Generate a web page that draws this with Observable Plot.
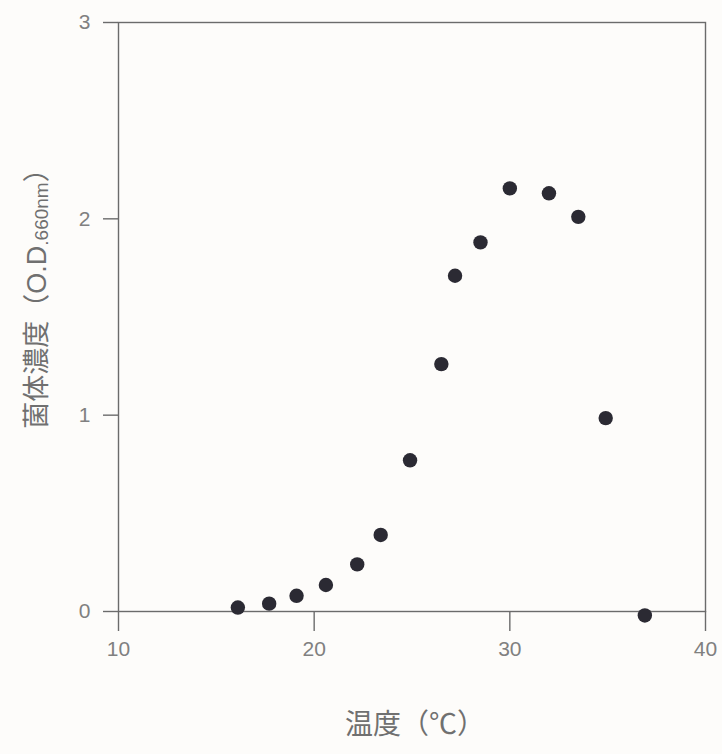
<!DOCTYPE html>
<html>
<head>
<meta charset="utf-8">
<script src="https://cdn.jsdelivr.net/npm/d3@7"></script>
<script src="https://cdn.jsdelivr.net/npm/@observablehq/plot@0.6"></script>
<style>
  html, body { margin: 0; padding: 0; background: #fdfcfa; }
  #chart { width: 722px; height: 754px; }
</style>
</head>
<body>
<div id="chart"></div>
<script>
// Data
const temperature = [16.1, 17.7, 19.1, 20.6, 22.2, 23.4, 24.9, 26.5, 27.2, 28.5, 30.0, 32.0, 33.5, 34.9, 36.9];
const od660 = [0.02, 0.04, 0.08, 0.135, 0.24, 0.39, 0.77, 1.26, 1.71, 1.88, 2.155, 2.13, 2.01, 0.985, -0.02];
const xTicks = [10, 20, 30, 40];
const yTicks = [0, 1, 2, 3];
const xLabel = "温度（℃）";
const yLabelMain = "菌体濃度（O.D";
const yLabelSub = ".660nm";
const yLabelEnd = "）";

const data = temperature.map((t, i) => ({t, od: od660[i]}));

const font = "'Liberation Sans', 'Noto Sans CJK JP', sans-serif";
const axisColor = "#6b6b6b";
const textColor = "#808080";

const svg = Plot.plot({
  width: 722,
  height: 754,
  marginLeft: 118,
  marginRight: 17,
  marginTop: 22,
  marginBottom: 143,
  x: {domain: [10, 40]},
  y: {domain: [0, 3]},
  style: {background: "transparent", fontFamily: font, fontSize: "21px", color: textColor},
  marks: [
    Plot.frame({stroke: axisColor, strokeWidth: 1.4}),
    Plot.axisX(xTicks, {tickSize: 20, tickPadding: 10, tickFormat: "d", label: null, stroke: axisColor, strokeWidth: 1.4, fill: textColor, fontSize: 21}),
    Plot.axisY(yTicks, {tickSize: 15, tickPadding: 13, tickFormat: "d", label: null, stroke: axisColor, strokeWidth: 1.4, fill: textColor, fontSize: 21}),
    Plot.dot(data, {x: "t", y: "od", r: 7.2, fill: "#2b2a33", stroke: null}),
    Plot.text([xLabel], {frameAnchor: "bottom", dy: 122, dx: 3, fontSize: 28, fill: "#707070", fontFamily: font})
  ]
});

// Rotated y-axis label with a subscripted wavelength
const g = d3.select(svg).append("text")
  .attr("transform", "translate(46,292) rotate(-90)")
  .attr("text-anchor", "middle")
  .attr("fill", "#707070")
  .attr("font-family", font)
  .attr("font-size", 27);
g.append("tspan").text(yLabelMain);
g.append("tspan").attr("font-size", 19).attr("dy", 2).text(yLabelSub);
g.append("tspan").attr("dy", -2).text(yLabelEnd);

document.getElementById("chart").appendChild(svg);
</script>
</body>
</html>
